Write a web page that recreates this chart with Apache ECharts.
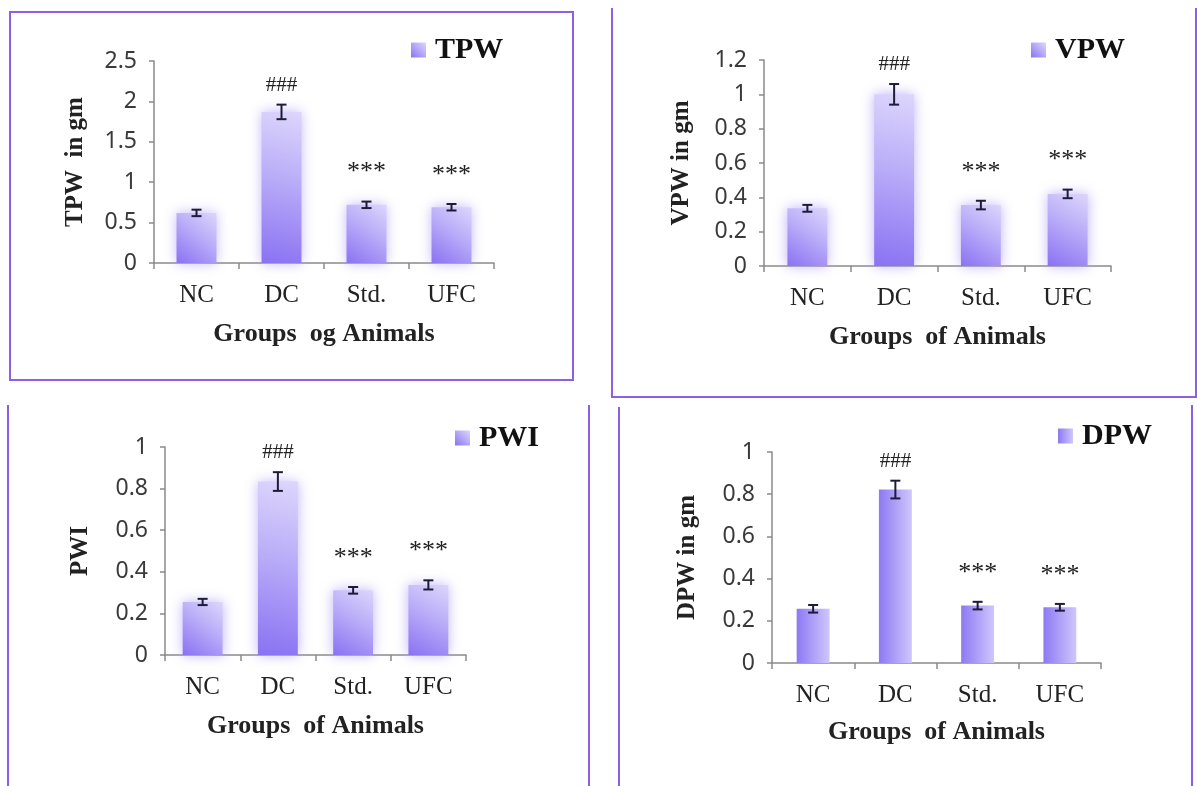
<!DOCTYPE html>
<html><head><meta charset="utf-8">
<script src="https://cdn.jsdelivr.net/npm/echarts@6/dist/echarts.min.js"></script>
<style>html,body{margin:0;padding:0;background:#fff}#c{width:1197px;height:786px}</style>
</head><body><div id="c"></div>
<script>
// ---- data ----
const categories = ['NC', 'DC', 'Std.', 'UFC'];
const marks = ['', '###', '***', '***'];

const tpwMean = [0.62, 1.87, 0.72, 0.69];
const tpwErr  = [0.04, 0.09, 0.04, 0.04];
const tpwTicks = [0, 0.5, 1, 1.5, 2, 2.5];

const vpwMean = [0.336, 1.0, 0.355, 0.42];
const vpwErr  = [0.02, 0.06, 0.025, 0.025];
const vpwTicks = [0, 0.2, 0.4, 0.6, 0.8, 1, 1.2];

const pwiMean = [0.255, 0.834, 0.311, 0.337];
const pwiErr  = [0.015, 0.045, 0.016, 0.022];
const pwiTicks = [0, 0.2, 0.4, 0.6, 0.8, 1];

const dpwMean = [0.257, 0.822, 0.272, 0.264];
const dpwErr  = [0.018, 0.042, 0.018, 0.016];
const dpwTicks = [0, 0.2, 0.4, 0.6, 0.8, 1];

// ---- layout ----
const panels = [
  {name: 'TPW', yName: 'TPW  in gm', xName: 'Groups  og Animals', mean: tpwMean, err: tpwErr, ticks: tpwTicks,
   grid: {left: 154, top: 61, width: 340, height: 202}, bw: '47%', glow: true, yGap: 66, xGap: 58,
   legend: {left: 411, top: 35}},
  {name: 'VPW', yName: 'VPW in gm', xName: 'Groups  of Animals', mean: vpwMean, err: vpwErr, ticks: vpwTicks,
   grid: {left: 764, top: 60, width: 347, height: 206}, bw: '46%', glow: true, yGap: 70, xGap: 58,
   legend: {left: 1031, top: 35}},
  {name: 'PWI', yName: 'PWI', xName: 'Groups  of Animals', mean: pwiMean, err: pwiErr, ticks: pwiTicks,
   grid: {left: 165, top: 447, width: 301, height: 208}, bw: '53%', glow: true, yGap: 72, xGap: 58,
   legend: {left: 455, top: 423}},
  {name: 'DPW', yName: 'DPW in gm', xName: 'Groups  of Animals', mean: dpwMean, err: dpwErr, ticks: dpwTicks,
   grid: {left: 772, top: 452, width: 329, height: 211}, bw: '40%', glow: false, yGap: 72, xGap: 56,
   legend: {left: 1058, top: 421}}
];

const serif = '"Liberation Serif", "DejaVu Serif", serif';
const sans = '"Noto Sans", "Liberation Sans", sans-serif';
const axisGray = '#8a8a8a';

const grids = [], xAxes = [], yAxes = [], series = [], legends = [];
panels.forEach((p, i) => {
  grids.push(Object.assign({containLabel: false}, p.grid));
  xAxes.push({
    type: 'category', gridIndex: i, data: categories,
    boundaryGap: true,
    axisLine: {lineStyle: {color: axisGray, width: 1.5}},
    axisTick: {show: true, length: 6, lineStyle: {color: axisGray, width: 1.5}},
    axisLabel: {fontFamily: serif, fontSize: 25, color: '#222', margin: 20},
    name: p.xName, nameLocation: 'middle', nameGap: p.xGap,
    nameTextStyle: {fontFamily: serif, fontSize: 26, fontWeight: 'bold', color: '#222'}
  });
  const t = p.ticks;
  yAxes.push({
    type: 'value', gridIndex: i, min: t[0], max: t[t.length - 1], interval: t[1] - t[0],
    splitLine: {show: false},
    axisLine: {show: true, lineStyle: {color: axisGray, width: 1.5}},
    axisTick: {show: true, length: 5, lineStyle: {color: axisGray, width: 1.5}},
    axisLabel: {fontFamily: sans, fontSize: 23, color: '#3a3a3a', margin: 17},
    name: p.yName, nameLocation: 'middle', nameGap: p.yGap, nameRotate: 90,
    nameTextStyle: {fontFamily: serif, fontSize: 25, fontWeight: 'bold', color: '#222'}
  });
  const grad = p.glow
    ? new echarts.graphic.LinearGradient(0, 1, 1, 0, [
        {offset: 0, color: '#8A72F2'}, {offset: 0.55, color: '#B9ACF8'}, {offset: 1, color: '#DDD6FC'}])
    : new echarts.graphic.LinearGradient(0, 0, 1, 0, [
        {offset: 0, color: '#8D79F3'}, {offset: 1, color: '#CFC6FB'}]);
  series.push({
    type: 'bar', name: p.name, xAxisIndex: i, yAxisIndex: i, data: p.mean,
    barWidth: p.bw,
    itemStyle: Object.assign({color: grad},
      p.glow ? {shadowBlur: 12, shadowColor: 'rgba(175,160,248,0.8)'} : {}),
    emphasis: {disabled: true}
  });
  series.push({
    type: 'custom', name: p.name + '-err', xAxisIndex: i, yAxisIndex: i,
    data: p.mean.map((m, k) => [k, m, p.err[k]]),
    encode: {x: 0, y: 1},
    z: 5, silent: true,
    renderItem: (params, api) => {
      const x = api.value(0), m = api.value(1), e = api.value(2);
      const top = api.coord([x, m + e]);
      const bot = api.coord([x, m - e]);
      const cap = 5;
      const st = {stroke: '#1c1c3a', lineWidth: 2};
      const mk = marks[params.dataIndex];
      const children = [
        {type: 'line', shape: {x1: top[0], y1: top[1], x2: bot[0], y2: bot[1]}, style: st},
        {type: 'line', shape: {x1: top[0] - cap, y1: top[1], x2: top[0] + cap, y2: top[1]}, style: st},
        {type: 'line', shape: {x1: bot[0] - cap, y1: bot[1], x2: bot[0] + cap, y2: bot[1]}, style: st}
      ];
      if (mk) {
        const isHash = mk[0] === '#';
        children.push({type: 'text', style: {
          text: mk, x: top[0], y: top[1] - (isHash ? 9 : 16), align: 'center', verticalAlign: 'bottom',
          font: (isHash ? '21px ' : '26px ') + serif, fill: '#222'
        }});
      }
      return {type: 'group', children};
    }
  });
  legends.push({
    data: [p.name], left: p.legend.left, top: p.legend.top, padding: 0,
    icon: 'rect', itemWidth: 15, itemHeight: 15, itemGap: 4, selectedMode: false,
    textStyle: {fontFamily: serif, fontSize: 30, fontWeight: 'bold', color: '#111', padding: [0, 0, 0, 4]}
  });
});

const border = {stroke: '#8F5FE3', lineWidth: 2, fill: null};
const graphics = [
  {type: 'rect', shape: {x: 10, y: 12, width: 563, height: 368}, style: border, silent: true},
  {type: 'polyline', shape: {points: [[612, 8], [612, 397], [1196, 397], [1196, 8]]}, style: border, silent: true},
  {type: 'polyline', shape: {points: [[8, 405], [8, 790]]}, style: border, silent: true},
  {type: 'polyline', shape: {points: [[589, 405], [589, 790]]}, style: border, silent: true},
  {type: 'polyline', shape: {points: [[619, 407], [619, 790]]}, style: border, silent: true},
  {type: 'polyline', shape: {points: [[1192, 405], [1192, 790]]}, style: border, silent: true}
];

const chart = echarts.init(document.getElementById('c'), null, {renderer: 'canvas'});
chart.setOption({
  backgroundColor: '#fff',
  animation: false,
  grid: grids, xAxis: xAxes, yAxis: yAxes, series, legend: legends,
  graphic: graphics
});
</script></body></html>
